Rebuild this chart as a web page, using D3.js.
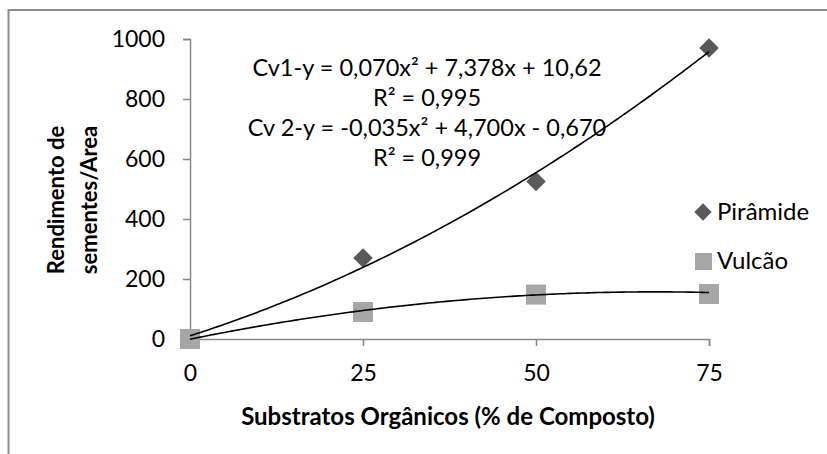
<!DOCTYPE html>
<html>
<head>
<meta charset="utf-8">
<script src="https://cdn.jsdelivr.net/npm/d3@7"></script>
<style>
  body { margin: 0; background: #fff; }
  text { font-family: Lato, "Open Sans", sans-serif; fill: #000; }
</style>
</head>
<body>
<div id="chart"></div>
<script>
// data
const doses = [0, 25, 50, 75]
const piramide = [0, 270, 525, 970]
const vulcao = [0, 90, 148, 150]
const yTicks = [0, 200, 400, 600, 800, 1000]
const xTicks = [0, 25, 50, 75]
// trend line coefficients (a, b, c) as printed on the chart
const fitPiramide = [0.070, 7.378, 10.62]
const fitVulcao = [-0.035, 4.700, -0.670]
const eqLines = ["Cv1-y = 0,070x² + 7,378x + 10,62", "R² = 0,995", "Cv 2-y = -0,035x² + 4,700x - 0,670", "R² = 0,999"]

const W = 827, H = 454
const svg = d3.select("#chart").append("svg").attr("width", W).attr("height", H)

// outer frame (only top and left visible)
svg.append("rect").attr("x", 8.5).attr("y", 10).attr("width", 900).attr("height", 600)
    .attr("fill", "none").attr("stroke", "#8c8c8c").attr("stroke-width", 2)

const x = d3.scaleLinear().domain([0, 75]).range([190, 709])
const y = d3.scaleLinear().domain([0, 1000]).range([339, 39])
const axisColor = "#868686"

//y axis
const yAxis = svg.append("g").attr("transform", "translate(190,0)")
    .call(d3.axisLeft(y).tickValues(yTicks).tickSize(7).tickPadding(18).tickFormat(d3.format("d")))
yAxis.select(".domain").attr("stroke", axisColor).attr("stroke-width", 1.5)
yAxis.selectAll(".tick line").attr("stroke", axisColor).attr("stroke-width", 1.5)
yAxis.selectAll("text").style("font-size", "23px").attr("fill", "#000")

//x axis
const xAxis = svg.append("g").attr("transform", "translate(0,339)")
    .call(d3.axisBottom(x).tickValues(xTicks).tickSize(7).tickPadding(19))
xAxis.select(".domain").attr("stroke", axisColor).attr("stroke-width", 1.5)
xAxis.selectAll(".tick line").attr("stroke", axisColor).attr("stroke-width", 1.5)
xAxis.selectAll("text").style("font-size", "23px").attr("fill", "#000")

// axis titles
svg.append("text").attr("x", 448).attr("y", 425).attr("text-anchor", "middle")
    .style("font-size", "24px").style("font-weight", "bold")
    .text("Substratos Orgânicos (% de Composto)")

const yTitle = svg.append("text").attr("transform", "translate(56,200) rotate(-90)")
    .attr("text-anchor", "middle").style("font-size", "22px").style("font-weight", "bold")
yTitle.append("tspan").attr("x", 0).attr("dy", 8).text("Rendimento de")
yTitle.append("tspan").attr("x", 0).attr("dy", 33).text("sementes/Area")

// markers
const diamond = d3.symbol().type(d3.symbolSquare).size(190)
svg.append("g").selectAll("path").data(doses).join("path")
    .attr("d", diamond)
    .attr("transform", (d, i) => `translate(${x(d)},${y(piramide[i])}) rotate(45)`)
    .attr("fill", "#595959")

svg.append("g").selectAll("rect").data(doses).join("rect")
    .attr("x", d => x(d) - 10).attr("y", (d, i) => y(vulcao[i]) - 10)
    .attr("width", 20).attr("height", 20)
    .attr("fill", "#a6a6a6")

// trend lines
const poly = (c) => (v) => c[0] * v * v + c[1] * v + c[2]
const xs = d3.range(0, 75.01, 0.5)
const line = d3.line().x(d => x(d[0])).y(d => y(d[1]))
;[fitPiramide, fitVulcao].forEach(c => {
    const f = poly(c)
    svg.append("path").datum(xs.map(v => [v, f(v)]))
        .attr("d", line).attr("fill", "none").attr("stroke", "#000").attr("stroke-width", 1.6)
})

// equations
svg.append("g").selectAll("text").data(eqLines).join("text")
    .attr("x", 427).attr("y", (d, i) => 76 + i * 30)
    .attr("text-anchor", "middle").style("font-size", "23.5px")
    .text(d => d)

// legend
const legend = svg.append("g")
legend.append("path").attr("d", d3.symbol().type(d3.symbolSquare).size(150))
    .attr("transform", "translate(703,212) rotate(45)").attr("fill", "#595959")
legend.append("text").attr("x", 717).attr("y", 220).style("font-size", "24px").text("Pirâmide")
legend.append("rect").attr("x", 695).attr("y", 253).attr("width", 17).attr("height", 17).attr("fill", "#a6a6a6")
legend.append("text").attr("x", 717).attr("y", 269).style("font-size", "24px").text("Vulcão")
</script>
</body>
</html>
